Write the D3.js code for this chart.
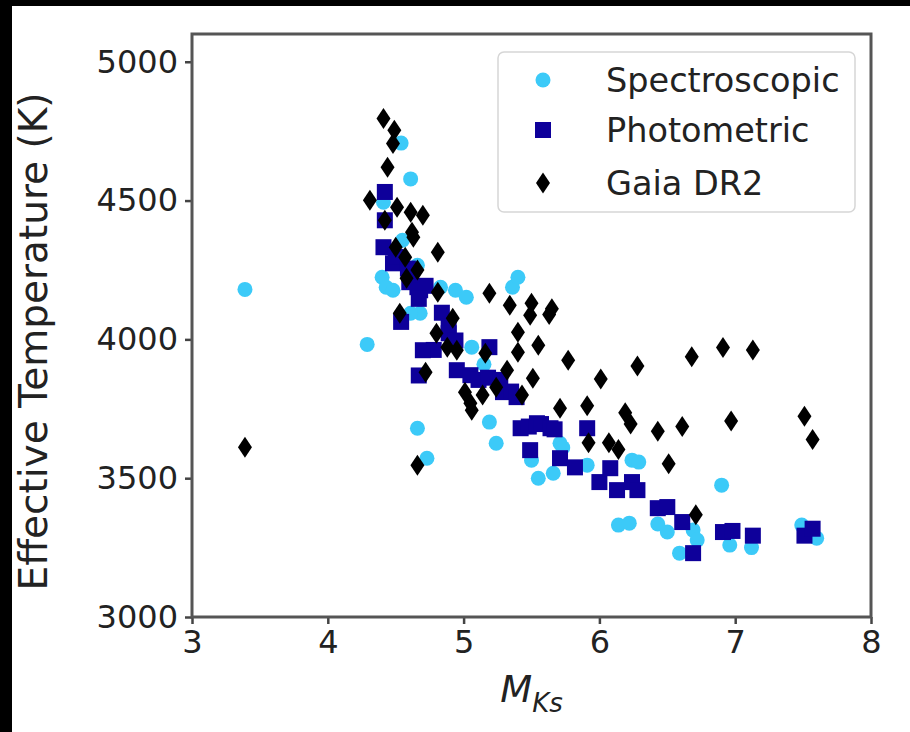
<!DOCTYPE html>
<html lang="en">
<head>
    <meta charset="UTF-8">
    <title>Teff vs MKs</title>
    <script src="https://d3js.org/d3.v7.min.js"></script>
    <style>
        body { margin: 0; background: #000; }
        svg { display: block; }
        text { font-family: 'DejaVu Sans', sans-serif; fill: #222; }
    </style>
</head>
<body>
<div id="chart"></div>
<script>
    // data: absolute Ks magnitude and effective temperature
    const specM = [3.39, 4.29, 4.54, 4.61, 4.41, 4.40, 4.43, 4.48, 4.66, 4.55, 4.83, 4.94, 5.02, 5.36, 5.40,
        4.68, 4.61, 5.06, 5.15, 5.19, 5.24, 4.66, 4.73, 5.50, 5.55, 5.66, 5.71, 5.73, 5.91, 6.14, 6.22, 6.24,
        6.29, 6.43, 6.50, 6.69, 6.72, 6.59, 6.90, 6.96, 7.12, 7.49, 7.60];
    const specT = [4180, 3982, 4707, 4578, 4494, 4224, 4188, 4177, 4267, 4357, 4188, 4177, 4152, 4188, 4224,
        4094, 4094, 3972, 3910, 3702, 3626, 3680, 3572, 3565, 3500, 3518, 3626, 3610, 3547, 3331, 3338, 3565,
        3558, 3335, 3306, 3313, 3277, 3230, 3475, 3259, 3250, 3331, 3284];

    const photM = [4.42, 4.42, 4.41, 4.48, 4.50, 4.59, 4.60, 4.66, 4.68, 4.72, 4.67, 4.54, 4.84, 4.89, 4.89,
        4.78, 4.70, 4.67, 4.94, 4.95, 5.05, 5.11, 5.19, 5.18, 5.27, 5.29, 5.35, 5.39, 5.42, 5.48, 5.54, 5.57,
        5.64, 5.67, 5.49, 5.71, 5.82, 5.91, 6.00, 6.08, 6.13, 6.24, 6.28, 6.43, 6.50, 6.61, 6.69, 6.91, 6.98,
        7.13, 7.51, 7.57];
    const photT = [4531, 4429, 4332, 4274, 4297, 4255, 4206, 4188, 4177, 4193, 4146, 4063, 4096, 4046, 4022,
        3962, 3961, 3870, 3996, 3889, 3871, 3854, 3972, 3862, 3854, 3810, 3812, 3792, 3680, 3686, 3698, 3695,
        3680, 3676, 3601, 3572, 3539, 3680, 3486, 3536, 3457, 3486, 3457, 3392, 3396, 3342, 3230, 3306, 3310,
        3293, 3293, 3318];

    const gaiaM = [4.41, 4.49, 4.48, 4.44, 4.31, 4.51, 4.61, 4.70, 4.42, 4.62, 4.63, 4.50, 4.81, 4.57, 4.66,
        4.58, 4.81, 5.19, 5.34, 5.50, 5.49, 5.65, 5.63, 4.53, 4.92, 4.80, 5.40, 5.55, 5.40, 4.88, 4.95, 5.16,
        5.77, 4.72, 5.32, 5.51, 5.01, 5.14, 5.24, 5.43, 5.05, 5.06, 5.71, 6.28, 6.68, 6.91, 7.13, 6.01, 5.91,
        6.19, 6.23, 5.92, 6.07, 6.14, 6.43, 6.61, 6.97, 7.51, 7.57, 6.51, 4.66, 3.39, 6.71];
    const gaiaT = [4796, 4753, 4706, 4620, 4501, 4476, 4458, 4447, 4429, 4386, 4368, 4332, 4314, 4296, 4250,
        4220, 4170, 4166, 4123, 4130, 4087, 4110, 4090, 4094, 4076, 4022, 4026, 3979, 3954, 3972, 3961, 3950,
        3925, 3882, 3889, 3860, 3810, 3800, 3828, 3800, 3770, 3745, 3752, 3904, 3937, 3971, 3962, 3857, 3761,
        3736, 3695, 3628, 3628, 3603, 3669, 3686, 3706, 3723, 3639, 3552, 3547, 3611, 3368];

    const xTicks = [3, 4, 5, 6, 7, 8];
    const yTicks = [3000, 3500, 4000, 4500, 5000];
    const seriesNames = ['Spectroscopic', 'Photometric', 'Gaia DR2'];

    const W = 910, H = 732;
    const pL = 192, pR = 871, pT = 34, pB = 617;

    const svg = d3.select('#chart').append('svg')
        .attr('width', W).attr('height', H);

    // black frame around the white figure
    svg.append('rect').attr('width', W).attr('height', H).attr('fill', '#000');
    svg.append('rect').attr('x', 12).attr('y', 6)
        .attr('width', W - 12).attr('height', H - 6).attr('fill', '#fff');

    const x = d3.scaleLinear().domain([3, 8]).range([pL, pR]);
    const y = d3.scaleLinear().domain([3000, 5100]).range([pB, pT]);

    const spec = specM.map((m, i) => ({m: m, t: specT[i]}));
    const phot = photM.map((m, i) => ({m: m, t: photT[i]}));
    const gaia = gaiaM.map((m, i) => ({m: m, t: gaiaT[i]}));

    const cSpec = '#3ccaf8', cPhot = '#0e009a', cGaia = '#000';

    // thin diamond like matplotlib 'd'
    const diamond = (w, h) => `M0,${-h/2}L${w/2},0L0,${h/2}L${-w/2},0Z`;

    const g = svg.append('g');

    g.selectAll('circle.spec').data(spec).enter()
        .append('circle').attr('class', 'spec')
        .attr('cx', d => x(d.m)).attr('cy', d => y(d.t))
        .attr('r', 7.5).attr('fill', cSpec);

    g.selectAll('rect.phot').data(phot).enter()
        .append('rect').attr('class', 'phot')
        .attr('x', d => x(d.m) - 8).attr('y', d => y(d.t) - 8)
        .attr('width', 16).attr('height', 16).attr('fill', cPhot);

    g.selectAll('path.gaia').data(gaia).enter()
        .append('path').attr('class', 'gaia')
        .attr('transform', d => `translate(${x(d.m)},${y(d.t)})`)
        .attr('d', diamond(14, 21)).attr('fill', cGaia);

    // axes
    const xAxis = svg.append('g').attr('transform', `translate(0,${pB})`)
        .call(d3.axisBottom(x).tickValues(xTicks).tickFormat(d3.format('d')).tickSize(7).tickPadding(6));
    const yAxis = svg.append('g').attr('transform', `translate(${pL},0)`)
        .call(d3.axisLeft(y).tickValues(yTicks).tickFormat(d3.format('d')).tickSize(7).tickPadding(7));

    [xAxis, yAxis].forEach(a => {
        a.select('.domain').remove();
        a.selectAll('line').attr('stroke', '#444').attr('stroke-width', 2.5);
        a.selectAll('text').attr('font-size', 32).attr('fill', '#222')
            .style('font-family', "'DejaVu Sans', sans-serif");
    });

    // spines
    svg.append('rect').attr('x', pL).attr('y', pT)
        .attr('width', pR - pL).attr('height', pB - pT)
        .attr('fill', 'none').attr('stroke', '#555').attr('stroke-width', 3);

    // axis labels
    svg.append('text')
        .attr('transform', `translate(47,${(pT + pB) / 2 + 16}) rotate(-90)`)
        .attr('text-anchor', 'middle').attr('font-size', 39)
        .text('Effective Temperature (K)');

    const xl = svg.append('text')
        .attr('x', (pL + pR) / 2).attr('y', 702)
        .attr('text-anchor', 'middle').attr('font-size', 37).attr('font-style', 'italic');
    xl.append('tspan').text('M');
    xl.append('tspan').attr('font-size', 26).attr('dy', 10).text('Ks');

    // legend
    const lg = svg.append('g').attr('transform', 'translate(498,52)');
    lg.append('rect').attr('width', 357).attr('height', 160).attr('rx', 6)
        .attr('fill', '#fff').attr('fill-opacity', 0.8)
        .attr('stroke', '#d6d6d6').attr('stroke-width', 1.5);

    const rows = [80, 130, 183].map(v => v - 52);
    lg.append('circle').attr('cx', 45).attr('cy', rows[0]).attr('r', 7.5).attr('fill', cSpec);
    lg.append('rect').attr('x', 37).attr('y', rows[1] - 8).attr('width', 16).attr('height', 16).attr('fill', cPhot);
    lg.append('path').attr('transform', `translate(45,${rows[2]})`).attr('d', diamond(14, 21)).attr('fill', cGaia);

    lg.selectAll('text.lab').data(seriesNames).enter()
        .append('text').attr('class', 'lab')
        .attr('x', 108).attr('y', (d, i) => rows[i] + 12)
        .attr('font-size', 33.5)
        .text(d => d);
</script>
</body>
</html>
